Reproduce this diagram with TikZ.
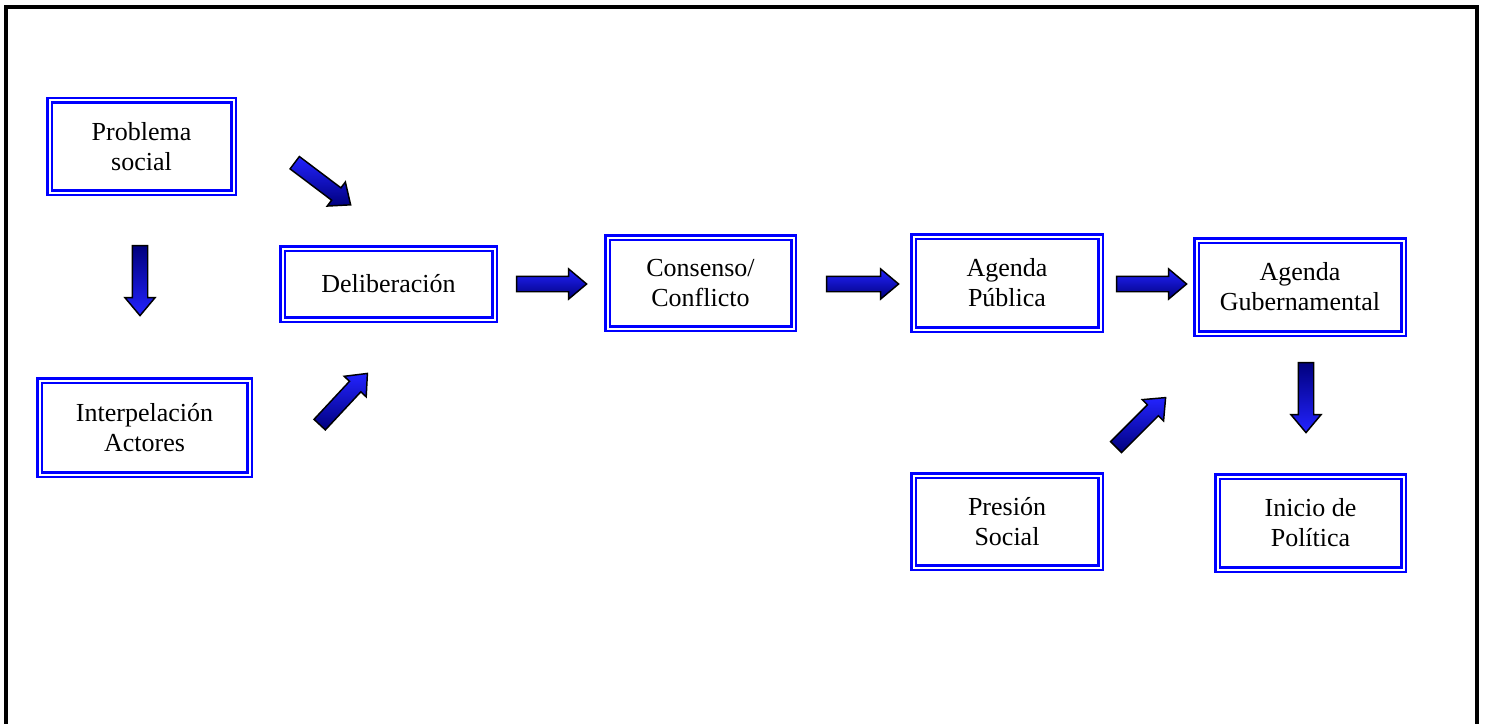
\documentclass[tikz,border=0pt]{standalone}
\usepackage{fontspec}
\setmainfont{Liberation Serif}
\usetikzlibrary{shapes.arrows}
\definecolor{boxblue}{RGB}{0,0,255}
\definecolor{arrowlight}{RGB}{35,35,255}
\definecolor{arrowmid}{RGB}{0,0,240}
\definecolor{arrowdark}{RGB}{0,0,125}

\begin{document}
\begin{tikzpicture}[x=0.75pt,y=-0.75pt,
  stage/.style={draw=boxblue, double=white, line width=1.9pt,
    double distance=1.5pt, align=center, inner sep=0pt,
    font=\fontsize{19.5pt}{22.5pt}\selectfont},
  blockarrow/.style={single arrow, draw=black, line width=1.1pt,
    inner xsep=0pt, inner ysep=5.25pt, single arrow head extend=5.5pt,
    single arrow tip angle=80, minimum height=52.5pt,
    top color=arrowlight, middle color=arrowmid, bottom color=arrowdark}]
\useasboundingbox (0,0) rectangle (1486,724);
\clip (0,0) rectangle (1486,724);

% outer frame, open at the bottom
\draw[line width=3pt, line join=miter] (6,740) -- (6,7) -- (1477,7) -- (1477,740);

% process stages
\node[stage, minimum width=138pt,   minimum height=69pt]    (prob)   at (141.5,146.5) {Problema\\social};
\node[stage, minimum width=157.5pt, minimum height=70.5pt]  (interp) at (144.5,427.5) {Interpelación\\Actores};
\node[stage, minimum width=159pt,   minimum height=53.25pt] (delib)  at (388.5,284)   {Deliberación};
\node[stage, minimum width=139.5pt, minimum height=68.25pt] (cons)   at (700.5,283)   {Consenso/\\Conflicto};
\node[stage, minimum width=140.25pt,minimum height=69.75pt] (apub)   at (1007,283)    {Agenda\\Pública};
\node[stage, minimum width=155.25pt,minimum height=69.75pt] (agub)   at (1300,287)    {Agenda\\Gubernamental};
\node[stage, minimum width=140.25pt,minimum height=69pt]    (pres)   at (1007,521.5)  {Presión\\Social};
\node[stage, minimum width=139.5pt, minimum height=69.75pt] (inicio) at (1310.5,523)  {Inicio de\\Política};

% block arrows; the light side faces up or left
\node[blockarrow, rotate=-37]                     (probdelib)   at (319,181)      {};
\node[blockarrow, rotate=-90, shading angle=180]  (probinterp)  at (140,276)      {};
\node[blockarrow, rotate=47]                      (interpdelib) at (340.4,402.4)  {};
\node[blockarrow]                                 (delibcons)   at (547,284)      {};
\node[blockarrow, minimum height=54pt]            (consapub)    at (858,284)      {};
\node[blockarrow]                                 (apubagub)    at (1147,284)     {};
\node[blockarrow, rotate=45]                      (presagub)    at (1137.6,425.6) {};
\node[blockarrow, rotate=-90, shading angle=180]  (agubinicio)  at (1306,393)     {};
\end{tikzpicture}
\end{document}
